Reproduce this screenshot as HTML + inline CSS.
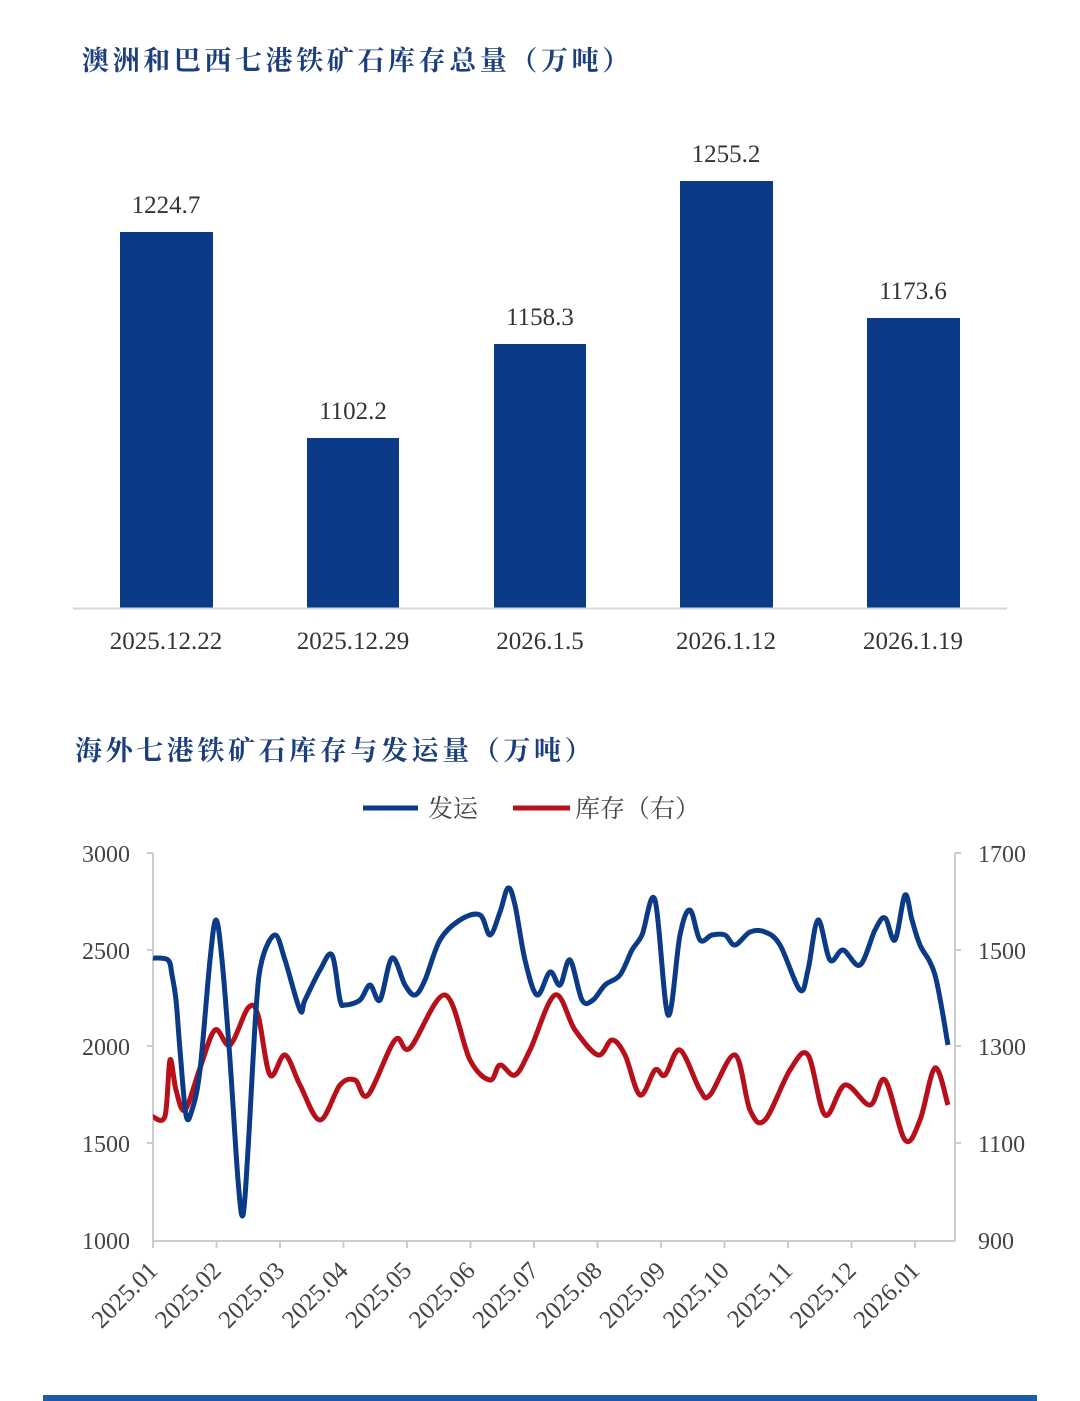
<!DOCTYPE html><html><head><meta charset="utf-8"><style>
body{margin:0;width:1080px;height:1401px;background:#fff;overflow:hidden;position:relative;font-family:"Liberation Serif","Noto Serif CJK SC",serif}
.t{position:absolute;font-weight:bold;color:#1c3f7c;font-size:27px;letter-spacing:3.6px}
</style></head><body>
<div class="t" style="left:82px;top:39px">澳洲和巴西七港铁矿石库存总量（万吨）</div>
<div class="t" style="left:75px;top:729px">海外七港铁矿石库存与发运量（万吨）</div>
<svg width="1080" height="1401" style="position:absolute;left:0;top:0" font-family="Liberation Serif, serif">
<g fill="#0b3a86">
<rect x="120" y="232" width="93" height="376"/><rect x="307" y="438" width="92" height="170"/><rect x="494" y="344" width="92" height="264"/><rect x="680" y="181" width="93" height="427"/><rect x="867" y="318" width="93" height="290"/></g>
<line x1="73" y1="608.5" x2="1007" y2="608.5" stroke="#d8d8d8" stroke-width="2"/>
<g font-size="25" fill="#333" text-anchor="middle">
<text x="166" y="213">1224.7</text><text x="353" y="419">1102.2</text><text x="540" y="325">1158.3</text><text x="726" y="162">1255.2</text><text x="913" y="299">1173.6</text>
<text x="166" y="649">2025.12.22</text><text x="353" y="649">2025.12.29</text><text x="540" y="649">2026.1.5</text><text x="726" y="649">2026.1.12</text><text x="913" y="649">2026.1.19</text></g>
<line x1="363" y1="808" x2="418" y2="808" stroke="#0b3a86" stroke-width="5"/>
<line x1="513" y1="808" x2="570" y2="808" stroke="#b8101a" stroke-width="5"/>
<g font-family="Liberation Serif, Noto Serif CJK SC, serif" font-size="25" fill="#444"><text x="428" y="817">发运</text><text x="575" y="817">库存（右）</text></g>
<g stroke="#ccc" stroke-width="2"><line x1="153" y1="853" x2="153" y2="1241"/><line x1="152" y1="1241" x2="955" y2="1241"/><line x1="955" y1="853" x2="955" y2="1241"/>
<line x1="147" y1="853" x2="153" y2="853"/><line x1="147" y1="950" x2="153" y2="950"/><line x1="147" y1="1046" x2="153" y2="1046"/><line x1="147" y1="1143" x2="153" y2="1143"/>
<line x1="955" y1="853" x2="961" y2="853"/><line x1="955" y1="950" x2="961" y2="950"/><line x1="955" y1="1046" x2="961" y2="1046"/><line x1="955" y1="1143" x2="961" y2="1143"/>
<g id="xt"></g></g>
<g font-size="24" fill="#444" text-anchor="end"><text x="130" y="862">3000</text><text x="130" y="959">2500</text><text x="130" y="1055">2000</text><text x="130" y="1152">1500</text><text x="130" y="1249">1000</text></g>
<g font-size="24" fill="#444"><text x="978" y="862">1700</text><text x="978" y="959">1500</text><text x="978" y="1055">1300</text><text x="978" y="1152">1100</text><text x="978" y="1249">900</text></g>
<g id="xl" font-size="25" fill="#444" text-anchor="end"></g>
<path id="red" fill="none" stroke="#b8101a" stroke-width="5" stroke-linejoin="round"/>
<path id="blue" fill="none" stroke="#0b3a86" stroke-width="5" stroke-linejoin="round"/>
<rect x="43" y="1395" width="994" height="6" fill="#1d5aa8"/>
</svg>
<script>
var B=[[153,958],[168,960],[172,975],[176,1000],[180,1050],[186,1115],[192,1110],[200,1070],[210,960],[216,920],[222,960],[230,1060],[238,1180],[243,1215],[248,1150],[256,1010],[262,960],[275,935],[285,960],[300,1010],[305,1000],[320,970],[332,955],[340,1000],[345,1005],[360,1000],[370,985],[380,1000],[392,958],[405,985],[415,995],[425,980],[440,940],[460,920],[480,915],[490,935],[500,912],[508,888],[515,905],[525,960],[537,995],[550,972],[560,985],[570,960],[582,1000],[593,1000],[605,985],[620,975],[632,950],[642,935],[655,900],[668,1015],[680,935],[690,910],[700,940],[712,935],[725,935],[735,945],[750,932],[765,932],[780,945],[800,990],[808,970],[818,920],[830,960],[843,950],[860,965],[875,930],[885,918],[895,940],[905,895],[912,920],[920,945],[935,975],[948,1045]];
var R=[[153,1117],[165,1116],[170,1060],[176,1090],[185,1110],[200,1068],[215,1030],[230,1045],[248,1008],[258,1015],[270,1075],[285,1055],[300,1085],[320,1120],[340,1085],[355,1080],[368,1095],[395,1040],[410,1048],[445,995],[470,1060],[490,1080],[500,1065],[515,1075],[530,1050],[555,995],[575,1030],[598,1055],[612,1040],[625,1055],[640,1095],[655,1070],[665,1075],[680,1050],[700,1090],[710,1095],[735,1055],[750,1110],[765,1120],[790,1070],[808,1055],[825,1115],[845,1085],[870,1105],[885,1080],[905,1140],[920,1120],[935,1068],[948,1105]];
function sp(p){var d="M"+p[0];for(var i=0;i<p.length-1;i++){var a=p[i-1]||p[i],b=p[i],c=p[i+1],e=p[i+2]||c;d+=" C"+(b[0]+(c[0]-a[0])/6)+","+(b[1]+(c[1]-a[1])/6)+" "+(c[0]-(e[0]-b[0])/6)+","+(c[1]-(e[1]-b[1])/6)+" "+c[0]+","+c[1];}return d;}
document.getElementById("blue").setAttribute("d",sp(B));document.getElementById("red").setAttribute("d",sp(R));
var ns="http://www.w3.org/2000/svg",xt=document.getElementById("xt"),xl=document.getElementById("xl");
var labs=["2025.01","2025.02","2025.03","2025.04","2025.05","2025.06","2025.07","2025.08","2025.09","2025.10","2025.11","2025.12","2026.01"];
for(var i=0;i<13;i++){var x=153+i*63.5;var l=document.createElementNS(ns,"line");l.setAttribute("x1",x);l.setAttribute("x2",x);l.setAttribute("y1",1241);l.setAttribute("y2",1248);xt.appendChild(l);
var t=document.createElementNS(ns,"text");t.setAttribute("transform","translate("+(x+6)+",1272) rotate(-45)");t.textContent=labs[i];xl.appendChild(t);}
</script>
</body></html>
